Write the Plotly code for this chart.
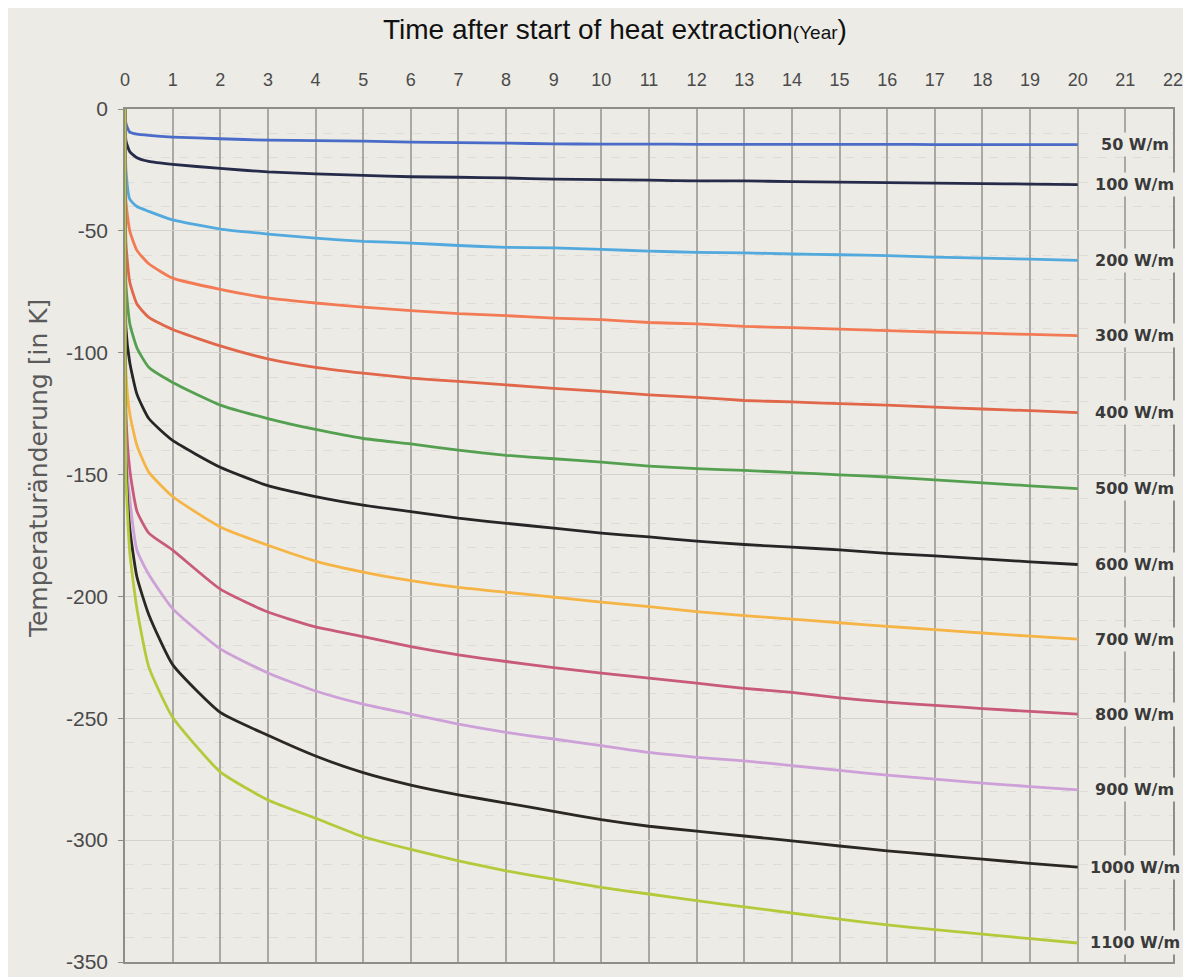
import plotly.graph_objects as go

# Time after start of heat extraction (years)
years = [0, 0.02, 0.1, 0.25, 0.5, 1, 2, 3, 4, 5, 6, 7, 8, 9, 10,
         11, 12, 13, 14, 15, 16, 17, 18, 19, 20]

labels = ["50 W/m", "100 W/m", "200 W/m", "300 W/m", "400 W/m", "500 W/m",
          "600 W/m", "700 W/m", "800 W/m", "900 W/m", "1000 W/m", "1100 W/m"]

colors = ["#4a6cc8", "#262b4a", "#52a9dd", "#f27a55", "#e0674a", "#55a050",
          "#262626", "#f5b445", "#c85a7a", "#cda0d8", "#2b2723", "#b5c93a"]

s50 = [0, -6, -9.5, -10.3, -10.8, -11.5, -12.2, -12.8, -13.0, -13.2, -13.6, -13.8,
       -14.0, -14.3, -14.4, -14.4, -14.5, -14.5, -14.5, -14.5, -14.5, -14.6, -14.6, -14.6, -14.6]
s100 = [0, -13, -17.5, -20, -21.5, -22.7, -24.4, -25.8, -26.6, -27.2, -27.8, -28.0,
        -28.3, -28.8, -29.0, -29.2, -29.5, -29.5, -29.8, -30.0, -30.2, -30.4, -30.6, -30.8, -31.0]
s200 = [0, -25, -37, -40, -42, -45.5, -49.3, -51.3, -53, -54.3, -55, -56,
        -56.8, -57, -57.6, -58.3, -58.8, -59, -59.5, -59.8, -60.2, -60.8, -61.2, -61.6, -62.1]
s300 = [0, -38, -50, -58, -63.5, -69.4, -74, -77.5, -79.6, -81.3, -82.7, -84,
        -84.8, -85.8, -86.4, -87.6, -88.2, -89.2, -89.7, -90.3, -90.9, -91.5, -92.0, -92.5, -93.0]
s400 = [0, -55, -71, -80, -85.5, -90.5, -97.2, -102.5, -106, -108.4, -110.4, -111.8,
        -113.2, -114.6, -115.9, -117.3, -118.3, -119.6, -120.2, -120.9, -121.5, -122.3, -123.1, -123.8, -124.6]
s500 = [0, -72, -88, -98, -106, -112.2, -121.5, -127, -131.5, -135.2, -137.4, -140,
        -142.1, -143.5, -144.9, -146.5, -147.6, -148.3, -149.2, -150.1, -151.0, -152.2, -153.4, -154.6, -155.8]
s600 = [0, -90, -104, -117, -127, -136, -147, -154.5, -159, -162.5, -165.2, -167.9,
        -170, -172, -174, -175.6, -177.3, -178.7, -179.8, -180.9, -182.3, -183.4, -184.6, -185.8, -186.9]
s700 = [0, -108, -125, -138, -149, -159, -171.5, -179, -185.5, -190, -193.5, -196.3,
        -198.3, -200.3, -202.3, -204.2, -206.2, -207.9, -209.3, -210.8, -212.3, -213.6, -215, -216.3, -217.5]
s800 = [0, -125, -148, -165, -174, -181, -197, -206.4, -212.5, -216.5, -220.6, -224,
        -226.7, -229.2, -231.5, -233.5, -235.6, -237.7, -239.4, -241.6, -243.4, -244.7, -246, -247.2, -248.3]
s900 = [0, -140, -160, -181, -191, -205, -221.5, -231.4, -238.8, -244.2, -248.3, -252.4,
        -255.8, -258.5, -261.2, -264, -266, -267.5, -269.4, -271.4, -273.3, -275, -276.6, -278.0, -279.4]
s1000 = [0, -145, -172, -192, -207.5, -228, -247.6, -257, -265.5, -272.3, -277.4, -281.4,
         -284.8, -288.2, -291.6, -294.3, -296.3, -298.3, -300.3, -302.4, -304.4, -306.1, -307.8, -309.5, -311.1]
s1100 = [0, -150, -182, -205, -229, -249.6, -272, -283.5, -291, -298.6, -303.8, -308.5,
         -312.6, -316, -319.4, -322.1, -324.8, -327.4, -329.9, -332.4, -334.8, -336.7, -338.6, -340.4, -342.2]

series = [s50, s100, s200, s300, s400, s500, s600, s700, s800, s900, s1000, s1100]

x_ticks = list(range(0, 23))
y_ticks = [0, -50, -100, -150, -200, -250, -300, -350]
y_ticktext = ["0", "-50", "-100", "-150", "-200", "-250", "-300", "-350"]

paper = "#ecebe6"
grid = "#a9a8a4"

fig = go.Figure()
for name, vals, col in zip(labels, series, colors):
    fig.add_trace(go.Scatter(x=years, y=vals, mode="lines", name=name,
                             line=dict(color=col, width=2.8, shape="spline", smoothing=0.5),
                             showlegend=False))

for name, vals in zip(labels, series):
    fig.add_annotation(x=21.2, y=vals[-1], xref="x", yref="y", text="<b>" + name + "</b>",
                       showarrow=False, xanchor="center", yanchor="middle",
                       font=dict(family="DejaVu Sans", size=16, color="#3a3a3a"),
                       bgcolor=paper, borderpad=2)

fig.add_annotation(x=0.468, y=1.093, xref="paper", yref="paper",
                   text="Time after start of heat extraction<span style='font-size:19px'>(Year</span>)",
                   showarrow=False, xanchor="center", yanchor="middle",
                   font=dict(family="Liberation Sans, Arial", size=28, color="#111111"))

fig.add_annotation(x=-0.082, y=0.578, xref="paper", yref="paper",
                   text="Temperaturänderung [in K]", textangle=-90,
                   showarrow=False, xanchor="center", yanchor="middle",
                   font=dict(family="DejaVu Sans", size=25, color="#5a5a5a"))

fig.update_layout(
    width=1191, height=977,
    margin=dict(l=117, r=26, t=101, b=13),
    paper_bgcolor=paper, plot_bgcolor=paper,
    xaxis=dict(range=[0, 22], side="top", tickvals=x_ticks, ticks="",
               ticklabelstandoff=14,
               tickfont=dict(family="Liberation Sans, Arial", size=18, color="#4a4a4a"),
               showgrid=True, gridcolor=grid, gridwidth=1.5,
               showline=True, linecolor="#8e8d89", linewidth=1.5, mirror=True,
               zeroline=False),
    yaxis=dict(range=[-350, 0], tickvals=y_ticks, ticktext=y_ticktext,
               ticks="outside", ticklen=5, tickcolor="#8e8d89",
               ticklabelstandoff=6,
               tickfont=dict(family="Liberation Sans, Arial", size=21, color="#4a4a4a"),
               showgrid=True, gridcolor="#d3d2cc", gridwidth=1,
               minor=dict(dtick=10, showgrid=True, gridcolor="#dddcd6", griddash="dash", gridwidth=1),
               showline=True, linecolor="#8e8d89", linewidth=1.5, mirror=True,
               zeroline=False),
)

fig.write_html("out.html")
